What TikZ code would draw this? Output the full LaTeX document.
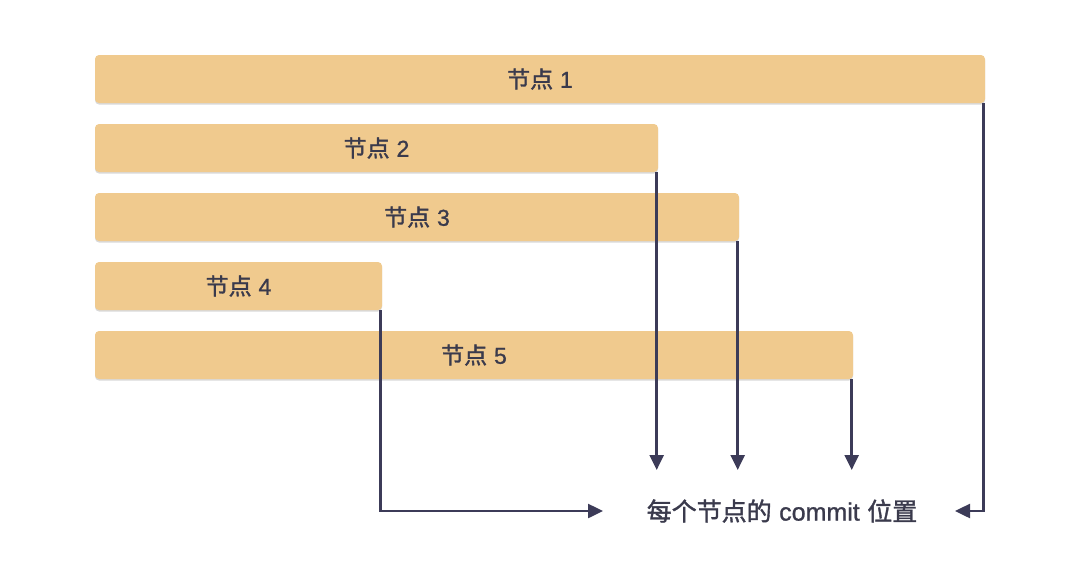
\documentclass[tikz,border=0pt]{standalone}
\usepackage{fontspec}
\newfontfamily\cjk[AutoFakeBold=1.4]{Noto Sans CJK SC}
\newfontfamily\lat[AutoFakeBold=1.0]{Liberation Sans}
\usetikzlibrary{arrows.meta,shadows}
\definecolor{barfill}{HTML}{F0CA8E}
\definecolor{ink}{HTML}{3C3B58}
\definecolor{txt}{HTML}{3A3A4C}
\newcommand{\lbl}[1]{节点\hspace{0.3em}{\lat\bfseries #1}}
\tikzset{
  bar/.style={fill=barfill, rounded corners=4pt, minimum height=48pt, inner sep=0pt,
    font=\cjk\bfseries\fontsize{23}{25}\selectfont, text=txt,
    drop shadow={shadow xshift=0pt, shadow yshift=-1.5pt, opacity=0.3, fill=black!50}},
  conn/.style={draw=ink, line width=2.5pt, -{Triangle[width=14pt,length=15pt]}},
}
\begin{document}
\begin{tikzpicture}[x=1pt,y=-1pt]
\useasboundingbox (0,0) rectangle (1080,571);
\node[bar, minimum width=890pt] (n1) at (540,79) {\lbl{1}};
\node[bar, minimum width=563pt] (n2) at (376.5,148) {\lbl{2}};
\node[bar, minimum width=644pt] (n3) at (417,217) {\lbl{3}};
\node[bar, minimum width=287pt] (n4) at (238.5,286) {\lbl{4}};
\node[bar, minimum width=758pt] (n5) at (474,355) {\lbl{5}};
\node[text=txt, font=\cjk\bfseries\fontsize{25}{27}\selectfont, inner sep=0pt] (t) at (782,511) {每个节点的\hspace{0.3em}{\lat\bfseries commit}\hspace{0.3em}位置};
\coordinate (top) at (0,470);
\coordinate (l) at (603,511);
\coordinate (r) at (955,511);
\draw[conn] ([xshift=-1.5pt]n2.south east) -- ([xshift=-1.5pt]n2.south east |- top);
\draw[conn] ([xshift=-1.5pt]n3.south east) -- ([xshift=-1.5pt]n3.south east |- top);
\draw[conn] ([xshift=-1.5pt]n5.south east) -- ([xshift=-1.5pt]n5.south east |- top);
\draw[conn] ([xshift=-1.5pt]n4.south east) |- (l);
\draw[conn] ([xshift=-1.5pt]n1.south east) |- (r);
\end{tikzpicture}
\end{document}
